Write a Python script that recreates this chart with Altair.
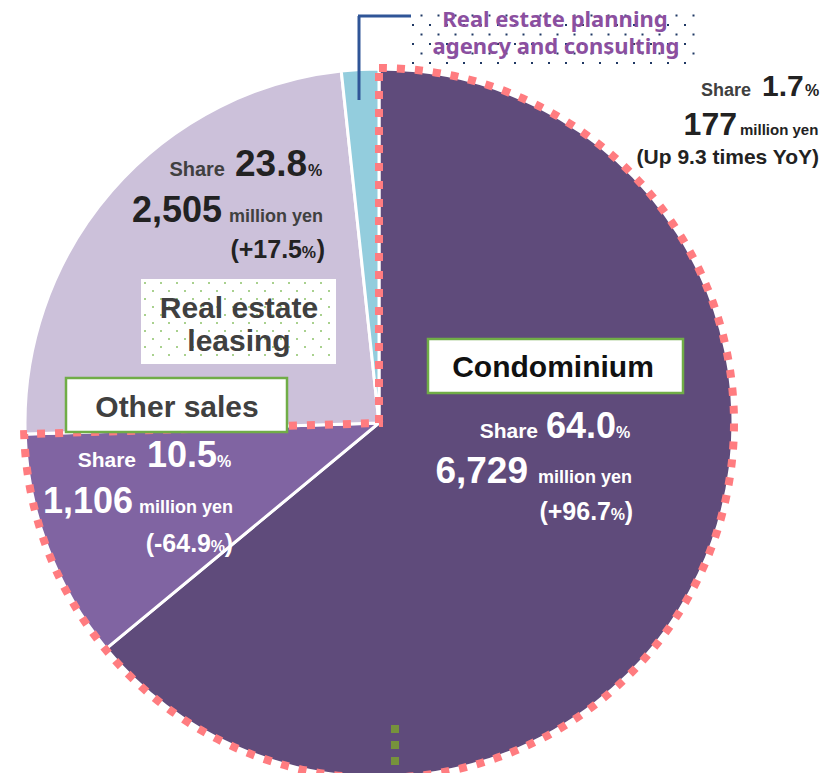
import altair as alt
import pandas as pd
import numpy as np

# ---- data ----
categories = ["Condominium", "Other sales", "Real estate leasing",
              "Real estate planning agency and consulting"]
shares = [64.0, 10.5, 23.8, 1.7]
amounts = [6729, 1106, 2505, 177]
yoy = ["+96.7", "-64.9", "+17.5", "Up 9.3 times YoY"]
colors = ["#5F4B7B", "#8064A2", "#CCC1DA", "#93CDDD"]

OFF = 8
CX, CY, R = 379 - OFF, 423 - OFF, 354

pie_df = pd.DataFrame({"category": categories, "share": shares, "order": [0, 1, 2, 3]})

pie = alt.Chart(pie_df).mark_arc(outerRadius=R, stroke="white", strokeWidth=3).encode(
    theta=alt.Theta("share:Q", stack=True),
    order=alt.Order("order:Q"),
    color=alt.Color("category:N", scale=alt.Scale(domain=categories, range=colors), legend=None),
    x=alt.value(CX), y=alt.value(CY),
)

outline_end = float(2 * np.pi * (shares[0] + shares[1]) / sum(shares))
one = pd.DataFrame({"a": [0]})
outline = alt.Chart(one).mark_arc(
    theta=0, theta2=outline_end, outerRadius=R + 1, fillOpacity=0,
    stroke="#FF7C80", strokeWidth=8, strokeDash=[8, 10]
).encode(x=alt.value(CX), y=alt.value(CY))

green_rule = alt.Chart(one).mark_rule(color="#76923C", strokeWidth=8, strokeDash=[8, 8]).encode(
    x=alt.value(395 - OFF), y=alt.value(725 - OFF), y2=alt.value(781 - OFF))

# boxes
box_df = pd.DataFrame({"x": [428, 66], "x2": [683, 287], "y": [339, 378], "y2": [393, 432]})
box_df[["x", "x2", "y", "y2"]] -= OFF
boxes = alt.Chart(box_df).mark_rect(fill="white", stroke="#70AD47", strokeWidth=2.5).encode(
    x=alt.X("x:Q", scale=None, axis=None), x2="x2:Q",
    y=alt.Y("y:Q", scale=None, axis=None), y2="y2:Q")
lbox_df = pd.DataFrame({"x": [141], "x2": [336], "y": [279], "y2": [364]})
lbox_df[["x", "x2", "y", "y2"]] -= OFF
lbox = alt.Chart(lbox_df).mark_rect(fill="white").encode(
    x=alt.X("x:Q", scale=None, axis=None), x2="x2:Q",
    y=alt.Y("y:Q", scale=None, axis=None), y2="y2:Q")


def dot_grid(x0, x1, y0, y1, dx, dy):
    xs, ys = [], []
    row = 0
    y = y0
    while y <= y1:
        x = x0 + (dx / 2 if row % 2 else 0)
        while x <= x1:
            xs.append(x - OFF)
            ys.append(y - OFF)
            x += dx
        y += dy
        row += 1
    return pd.DataFrame({"x": xs, "y": ys})


def dots(df, color):
    return alt.Chart(df).mark_square(size=4, color=color, opacity=1).encode(
        x=alt.X("x:Q", scale=None, axis=None), y=alt.Y("y:Q", scale=None, axis=None))


ldots = dots(dot_grid(145, 333, 283, 362, 16, 8), "#A9D18E")
pdots = dots(dot_grid(413, 698, 6, 68, 17, 9.5), "#1F3864")

# text pieces
DARK, GRAY, WHITE = "#222222", "#404040", "#FFFFFF"
rows = []


def t(text, x, y, size, color, align):
    rows.append({"text": text, "px": x - OFF, "py": y - OFF, "size": size, "color": color, "align": align})


def pct(v):
    return f"{v:.1f}"


# planning (index 3)
t("Share", 751, 96, 18, GRAY, "right")
t(pct(shares[3]), 762, 96, 30, DARK, "left")
t("%", 805, 96, 16, DARK, "left")
t(f"{amounts[3]:,}", 737, 135, 32, DARK, "right")
t("million yen", 740, 135, 15, DARK, "left")
t(f"({yoy[3]})", 819, 164, 21, DARK, "right")
# leasing (index 2)
t("Share", 225, 176, 20, GRAY, "right")
t(pct(shares[2]), 235, 176, 37, DARK, "left")
t("%", 308, 176, 16, DARK, "left")
t(f"{amounts[2]:,}", 222, 222, 36, DARK, "right")
t("million yen", 229, 222, 18, GRAY, "left")
t(")", 325, 258, 25, DARK, "right")
t("%", 316, 258, 16, DARK, "right")
t(f"({yoy[2]}", 302, 258, 25, DARK, "right")
# other sales (index 1)
t("Share", 136, 467, 21, WHITE, "right")
t(pct(shares[1]), 147, 467, 36, WHITE, "left")
t("%", 217, 467, 16, WHITE, "left")
t(f"{amounts[1]:,}", 133, 513, 36, WHITE, "right")
t("million yen", 139, 513, 18, WHITE, "left")
t(")", 233, 552, 25, WHITE, "right")
t("%", 225, 552, 16, WHITE, "right")
t(f"({yoy[1]}", 211, 552, 25, WHITE, "right")
# condominium (index 0)
t("Share", 538, 438, 21, WHITE, "right")
t(pct(shares[0]), 546, 438, 36, WHITE, "left")
t("%", 616, 438, 16, WHITE, "left")
t(f"{amounts[0]:,}", 528, 483, 37, WHITE, "right")
t("million yen", 538, 483, 18, WHITE, "left")
t(")", 633, 520, 25, WHITE, "right")
t("%", 625, 520, 16, WHITE, "right")
t(f"({yoy[0]}", 611, 520, 25, WHITE, "right")
# box labels
t("Condominium", 553, 377, 30, "#111111", "center")
t("Other sales", 177, 417, 30, GRAY, "center")
t("Real estate", 239, 318, 30, GRAY, "center")
t("leasing", 239, 351, 30, GRAY, "center")

text_df = pd.DataFrame(rows)


def text_layer(align):
    return alt.Chart(text_df[text_df["align"] == align]).mark_text(
        align=align, baseline="alphabetic", font="Liberation Sans", fontWeight="bold"
    ).encode(
        x=alt.X("px:Q", scale=None, axis=None),
        y=alt.Y("py:Q", scale=None, axis=None),
        text="text:N",
        size=alt.Size("size:Q", scale=None, legend=None),
        color=alt.Color("color:N", scale=None, legend=None),
    )


plan_df = pd.DataFrame({"text": ["Real estate planning", "agency and consulting"],
                        "px": [555 - OFF, 556 - OFF], "py": [27 - OFF, 54 - OFF]})
plan_text = alt.Chart(plan_df).mark_text(
    align="center", baseline="alphabetic", font="Noto Sans", fontWeight="bold",
    fontSize=22, color="#8B4FA0"
).encode(x=alt.X("px:Q", scale=None, axis=None), y=alt.Y("py:Q", scale=None, axis=None), text="text:N")

lead_v = alt.Chart(one).mark_rule(color="#2F5597", strokeWidth=3).encode(
    x=alt.value(359 - OFF), y=alt.value(16 - OFF), y2=alt.value(100 - OFF))
lead_h = alt.Chart(one).mark_rule(color="#2F5597", strokeWidth=3).encode(
    x=alt.value(358 - OFF), x2=alt.value(411 - OFF), y=alt.value(16 - OFF))

chart = alt.layer(
    pie, outline, green_rule, boxes, lbox, ldots, pdots,
    text_layer("left"), text_layer("right"), text_layer("center"),
    plan_text, lead_v, lead_h
).properties(width=812, height=765, autosize="none", padding=0).configure_view(stroke=None)

chart.save("out.html", embed_options={"renderer": "svg", "actions": False})
